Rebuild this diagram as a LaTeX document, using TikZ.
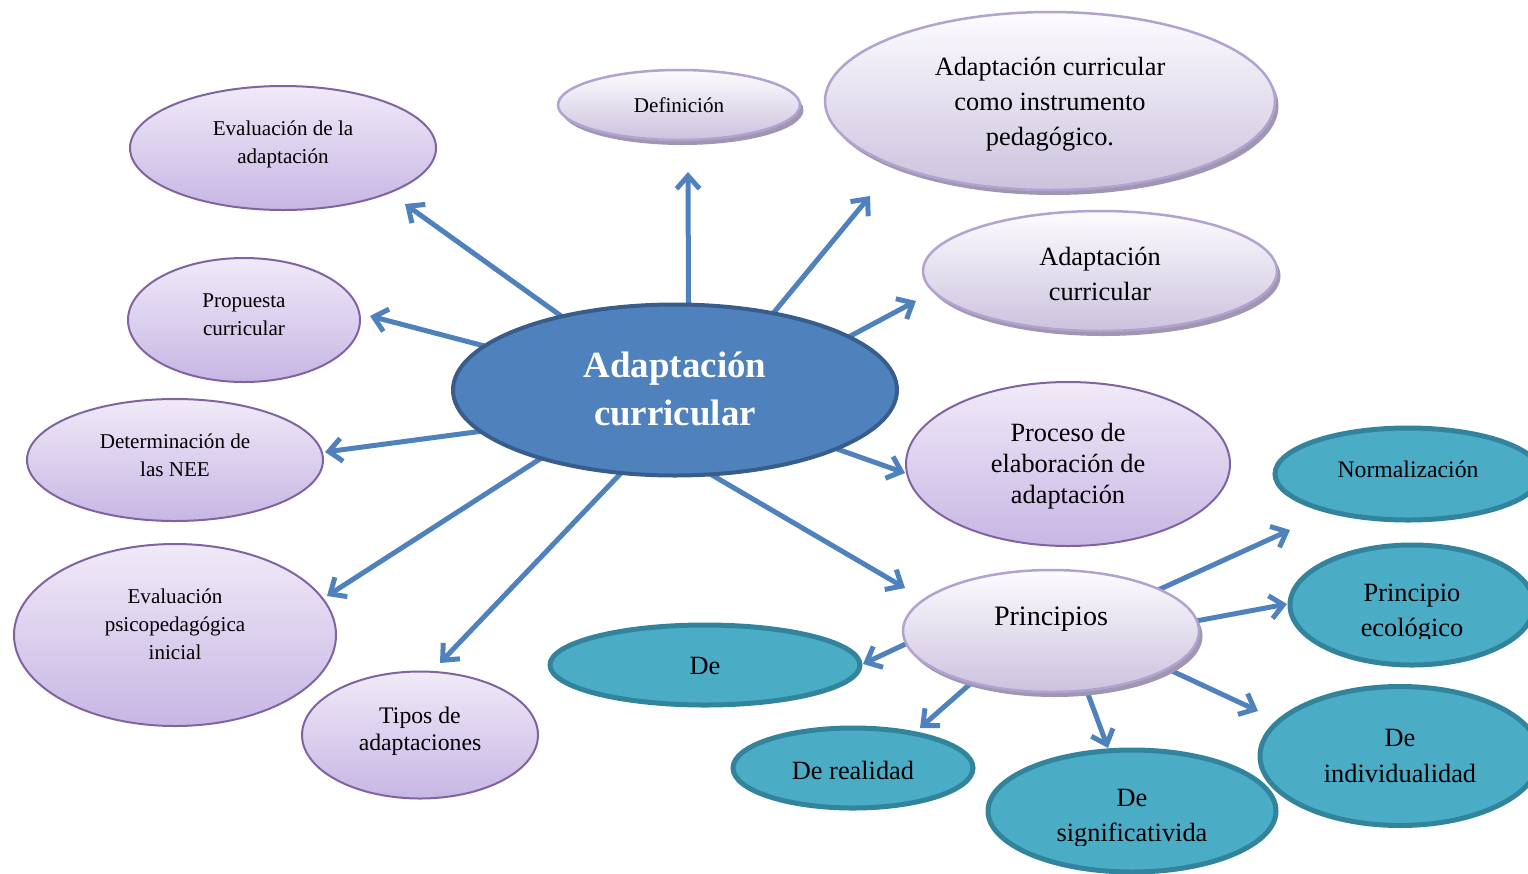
\documentclass[tikz,border=0pt]{standalone}
\usepackage{fontspec}
\setmainfont{Liberation Serif}
\usetikzlibrary{shapes.geometric,arrows.meta,shadows,backgrounds}
\definecolor{arrowblue}{RGB}{79,129,189}
\definecolor{purtop}{RGB}{240,234,248}
\definecolor{purbot}{RGB}{199,182,228}
\definecolor{purborder}{RGB}{128,100,162}
\definecolor{purstop}{RGB}{253,252,255}
\definecolor{pursbot}{RGB}{204,194,222}
\definecolor{pursborder}{RGB}{178,162,208}
\definecolor{shadowcol}{RGB}{160,150,178}
\definecolor{tealfill}{RGB}{75,172,198}
\definecolor{tealborder}{RGB}{49,132,155}
\definecolor{centfill}{RGB}{79,129,189}
\definecolor{centborder}{RGB}{56,93,138}
\tikzset{
  ebase/.style={ellipse, inner sep=0pt, outer sep=0pt},
  sz/.style 2 args={minimum width=#1*0.02cm, minimum height=#2*0.02cm},
  pur/.style={ebase, draw=purborder, line width=0.04cm, top color=purtop, bottom color=purbot},
  purs/.style={ebase, draw=pursborder, line width=0.05cm, top color=purstop, bottom color=pursbot,
    drop shadow={shadow xshift=0.07cm, shadow yshift=-0.1cm, fill=shadowcol, opacity=1}},
  tealnode/.style={ebase, draw=tealborder, line width=0.1cm, fill=tealfill},
  cnode/.style={ebase, draw=centborder, line width=0.08cm, fill=centfill},
  lbl/.style={align=center, inner sep=0pt, text=black},
  small/.style={lbl, font=\fontsize{12}{16}\selectfont},
  mid/.style={lbl, font=\fontsize{15}{20}\selectfont},
  conn/.style={draw=arrowblue, line width=0.1cm, -{Straight Barb[length=0.26cm, width=0.46cm]}, line cap=round, line join=round}
}
\begin{document}
\begin{tikzpicture}[x=0.02cm, y=-0.02cm]
\useasboundingbox (0,0) rectangle (1528,873);
\clip (0,0) rectangle (1528,873);
% central
\node[cnode, sz={444}{171}] (c) at (675,390) {};
\node[lbl, text=white, font=\fontsize{21}{27}\selectfont\bfseries] (ct) at (675,389) {Adaptación\\curricular};
% purple nodes
\node[pur, sz={306}{124}] (e1) at (283,148) {};
\node[small] (e1t) at (283,144) {Evaluación de la\\adaptación};
\node[purs, sz={242}{70}] (def) at (679,105) {};
\node[small] (deft) at (679,105) {Definición};
\node[purs, sz={450}{178}] (inst) at (1050,101) {};
\node[mid] (instt) at (1050,104) {Adaptación curricular\\como instrumento\\pedagógico.};
\node[purs, sz={354}{120}] (ac) at (1100,271) {};
\node[mid] (act) at (1100,274) {Adaptación\\curricular};
\node[pur, sz={232}{124}] (prop) at (244,320) {};
\node[small] (propt) at (244,315) {Propuesta\\curricular};
\node[pur, sz={296}{122}] (det) at (175,460) {};
\node[small] (dett) at (175,455) {Determinación de\\las NEE};
\node[pur, sz={322}{182}] (evp) at (175,635) {};
\node[small] (evpt) at (175,624) {Evaluación\\psicopedagógica\\inicial};
\node[pur, sz={236}{127}] (tip) at (420,735) {};
\node[lbl, font=\fontsize{13.5}{15.5}\selectfont] (tipt) at (420,731) {Tipos de\\adaptaciones};
\node[pur, sz={324}{164}] (proc) at (1068,464) {};
\node[lbl, font=\fontsize{15}{17.5}\selectfont] (proct) at (1068,466) {Proceso de\\elaboración de\\adaptación};
\node[purs, sz={296}{122}] (prin) at (1051,631) {};
\node[lbl, font=\fontsize{16}{20}\selectfont] (print) at (1051,619) {Principios};
% teal nodes
\node[tealnode, sz={266}{92}] (norm) at (1408,474) {};
\node[lbl, font=\fontsize{13.5}{18}\selectfont] (normt) at (1408,469) {Normalización};
\node[tealnode, sz={244}{120}] (eco) at (1412,605) {};
\begin{scope}
  \clip (1290,540) rectangle (1528,638);
  \node[mid] (ecot) at (1412,613) {Principio\\ecológico};
\end{scope}
\node[tealnode, sz={310}{80}] (de) at (705,665) {};
\node[mid] (det2) at (705,666) {De};
\node[tealnode, sz={240}{80}] (rea) at (853,768) {};
\node[mid] (reat) at (853,770) {De realidad};
\node[tealnode, sz={288}{122}] (sig) at (1132,811) {};
\begin{scope}
  \clip (988,760) rectangle (1276,845);
  \node[mid] (sigt) at (1132,818) {De\\significativida};
\end{scope}
\node[tealnode, sz={280}{139}] (ind) at (1400,756) {};
\node[mid] (indt) at (1400,756) {De\\individualidad};
% arrow tips
\coordinate (t1) at (405,204);
\coordinate (t2) at (688,172);
\coordinate (t3) at (870,196);
\coordinate (t4) at (916,301);
\coordinate (t5) at (370,316);
\coordinate (t6) at (325,452);
\coordinate (t7) at (327,596);
\coordinate (t8) at (440,663);
\coordinate (t9) at (905,473);
\coordinate (t10) at (905,588);
\coordinate (p1) at (1290,530);
\coordinate (p2) at (1287,604);
\coordinate (p3) at (863,664);
\coordinate (p4) at (920,728);
\coordinate (p5) at (1108,748);
\coordinate (p6) at (1258,711);
\begin{pgfonlayer}{background}
  \foreach \a/\t in {147.3/t1, 81.6/t2, 38.5/t3, 17/t4, 167.6/t5, 192/t6, 207.4/t7, 237.1/t8, 340.1/t9, 293.6/t10}
    \draw[conn] (c.\a) -- (\t);
  \foreach \a/\t in {21.9/p1, 4.3/p2, 185.9/p3, 213.2/p4, 301.4/p5, 342.1/p6}
    \draw[conn] (prin.\a) -- (\t);
\end{pgfonlayer}
\end{tikzpicture}
\end{document}
